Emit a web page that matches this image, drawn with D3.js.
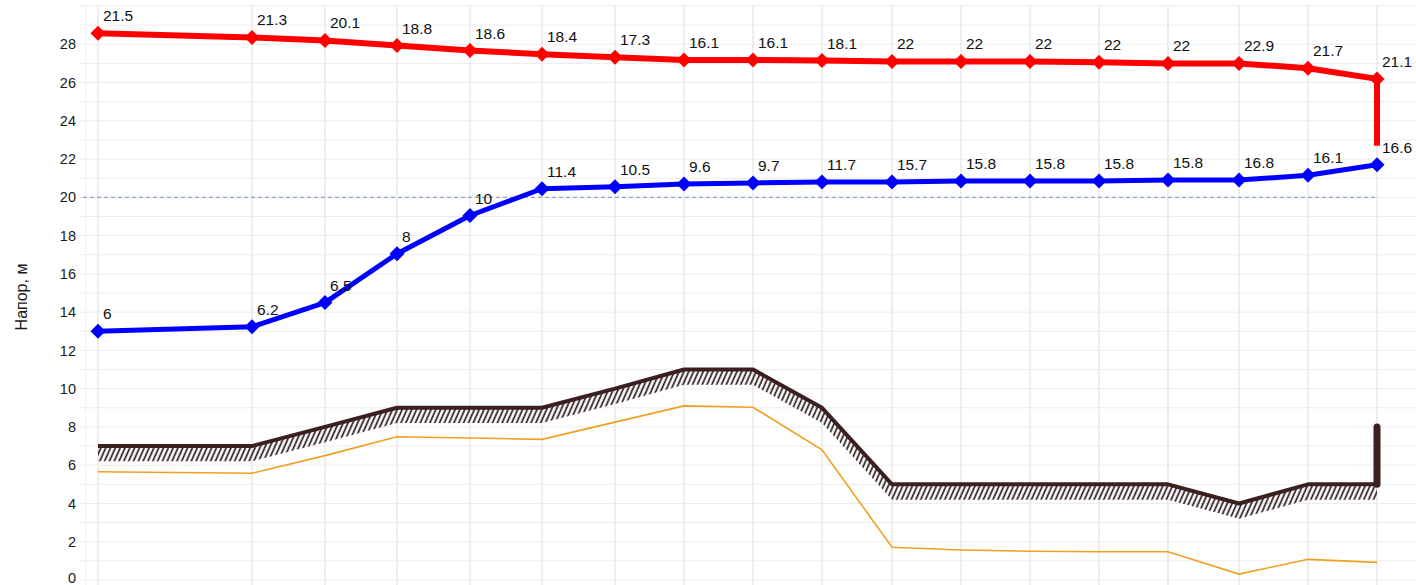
<!DOCTYPE html>
<html><head><meta charset="utf-8">
<script src="https://cdn.jsdelivr.net/npm/d3@7"></script>
<style>
html,body{margin:0;padding:0;background:#fff;}
text{font-family:"Liberation Sans",Arial,sans-serif;}
</style></head>
<body><svg id="chart" width="1416" height="585"></svg>
<script>
// Distance along the route (m), read from point positions
const distance = [0, 154, 227, 299, 372, 444, 517, 586, 655, 724, 794, 863, 932, 1001, 1070, 1141, 1210, 1279];
// Red head line (m) and its labels
const redHead = [28.57, 28.36, 28.2, 27.93, 27.67, 27.48, 27.32, 27.18, 27.18, 27.15, 27.1, 27.1, 27.1, 27.06, 27.0, 27.0, 26.75, 26.19];
const redEnd = 22.7;
const redLabels = ["21.5","21.3","20.1","18.8","18.6","18.4","17.3","16.1","16.1","18.1","22","22","22","22","22","22.9","21.7","21.1"];
// Blue head line (m) and its labels
const blueHead = [13.0, 13.24, 14.5, 17.05, 19.05, 20.45, 20.55, 20.7, 20.75, 20.8, 20.8, 20.85, 20.85, 20.85, 20.9, 20.9, 21.15, 21.7];
const blueLabels = ["6","6.2","6.5","8","10","11.4","10.5","9.6","9.7","11.7","15.7","15.8","15.8","15.8","15.8","16.8","16.1","16.6"];
// Ground surface (m)
const ground = [7, 7, 8, 9, 9, 9, 10, 11, 11, 9, 5, 5, 5, 5, 5, 4, 5, 5];
const groundEnd = 8;
const hatchDepth = 0.8;
// Orange line (m)
const orange = [5.66, 5.58, 6.5, 7.49, 7.42, 7.35, 8.25, 9.1, 9.03, 6.8, 1.71, 1.57, 1.5, 1.48, 1.48, 0.31, 1.08, 0.92];
const refLevel = 20;
const yTicks = [0,2,4,6,8,10,12,14,16,18,20,22,24,26,28];
const yTitle = "Напор, м";

const svg = d3.select("#chart");
const x = d3.scaleLinear().domain([0, 1279]).range([98, 1377]);
const y = d3.scaleLinear().domain([0, 30]).range([580, 6]);
const plotLeft = 80, plotRight = 1416, plotTop = 6, plotBottom = 585;

const defs = svg.append("defs");
const pat = defs.append("pattern").attr("id","hatch").attr("patternUnits","userSpaceOnUse")
  .attr("width",4.4).attr("height",10).attr("patternTransform","rotate(24)");
pat.append("line").attr("x1",1.5).attr("x2",1.5).attr("y1",0).attr("y2",10)
  .attr("stroke","#2a1a1b").attr("stroke-width",1.7);

// grid
const g = svg.append("g");
for (let v = 0; v <= 30; v++) {
  g.append("line").attr("x1",plotLeft).attr("x2",plotRight).attr("y1",y(v)).attr("y2",y(v))
    .attr("stroke","#ececec").attr("stroke-width",1);
}
g.append("line").attr("x1",86).attr("x2",86).attr("y1",plotTop).attr("y2",plotBottom)
  .attr("stroke","#f0f0f0").attr("stroke-width",1);
distance.forEach(d => {
  g.append("line").attr("x1",x(d)).attr("x2",x(d)).attr("y1",plotTop).attr("y2",plotBottom)
    .attr("stroke","#e8e8e8").attr("stroke-width",1.5);
});

// y axis
const yAxis = d3.axisLeft(y).tickValues(yTicks).tickSize(0).tickPadding(0);
const ya = svg.append("g").attr("transform","translate(76,0)").call(yAxis);
ya.select(".domain").remove();
ya.selectAll("text").attr("font-size",14.5).attr("fill","#1a1a1a").attr("font-family","Liberation Sans, Arial, sans-serif");
ya.selectAll(".tick").filter(d => d === 0).select("text").attr("dy","0.2em");
svg.append("text").attr("transform","translate(27,297) rotate(-90)").attr("text-anchor","middle")
  .attr("font-size",16).attr("fill","#1a1a1a").text(yTitle);

// reference dashed line
svg.append("line").attr("x1",83).attr("x2",x(distance[distance.length-1])).attr("y1",y(refLevel)).attr("y2",y(refLevel))
  .attr("stroke","#8fa3c6").attr("stroke-width",1.2).attr("stroke-dasharray","4,3");

// hatch band
const idx = d3.range(distance.length);
svg.append("path").datum(idx)
  .attr("d", d3.area().x(i=>x(distance[i])).y0(i=>y(ground[i]-hatchDepth)).y1(i=>y(ground[i])))
  .attr("fill","url(#hatch)");

// orange line
svg.append("path").datum(idx)
  .attr("d", d3.line().x(i=>x(distance[i])).y(i=>y(orange[i])))
  .attr("fill","none").attr("stroke","#f0a020").attr("stroke-width",1.6);

// ground line
svg.append("path").datum(idx)
  .attr("d", d3.line().x(i=>x(distance[i])).y(i=>y(ground[i])))
  .attr("fill","none").attr("stroke","#3b2022").attr("stroke-width",4).attr("stroke-linejoin","round");
const last = distance.length-1;
svg.append("line").attr("x1",x(distance[last])).attr("x2",x(distance[last]))
  .attr("y1",y(ground[last])).attr("y2",y(groundEnd))
  .attr("stroke","#3b2022").attr("stroke-width",7).attr("stroke-linecap","round");

function diamond(cx, cy, r){ return `M${cx},${cy-r}L${cx+r},${cy}L${cx},${cy+r}L${cx-r},${cy}Z`; }

// blue line
svg.append("path").datum(idx)
  .attr("d", d3.line().x(i=>x(distance[i])).y(i=>y(blueHead[i])))
  .attr("fill","none").attr("stroke","#0000ff").attr("stroke-width",5).attr("stroke-linejoin","round");
svg.append("g").selectAll("path").data(idx).join("path")
  .attr("d", i=>diamond(x(distance[i]), y(blueHead[i]), 7.5)).attr("fill","#0000ff");

// red line
const redPts = idx.map(i=>[x(distance[i]), y(redHead[i])]);
redPts.push([x(distance[last]), y(redEnd)]);
svg.append("path").datum(redPts)
  .attr("d", d3.line())
  .attr("fill","none").attr("stroke","#ff0000").attr("stroke-width",6).attr("stroke-linejoin","round");
svg.append("g").selectAll("path").data(idx).join("path")
  .attr("d", i=>diamond(x(distance[i]), y(redHead[i]), 7.5)).attr("fill","#ff0000");

// labels
svg.append("g").selectAll("text").data(idx).join("text")
  .attr("x", i=>x(distance[i])+5).attr("y", i=>y(redHead[i])-12)
  .attr("font-size",15.5).attr("fill","#111").text(i=>redLabels[i]);
svg.append("g").selectAll("text").data(idx).join("text")
  .attr("x", i=>x(distance[i])+5).attr("y", i=>y(blueHead[i])-12)
  .attr("font-size",15.5).attr("fill","#111").text(i=>blueLabels[i]);
</script></body></html>
